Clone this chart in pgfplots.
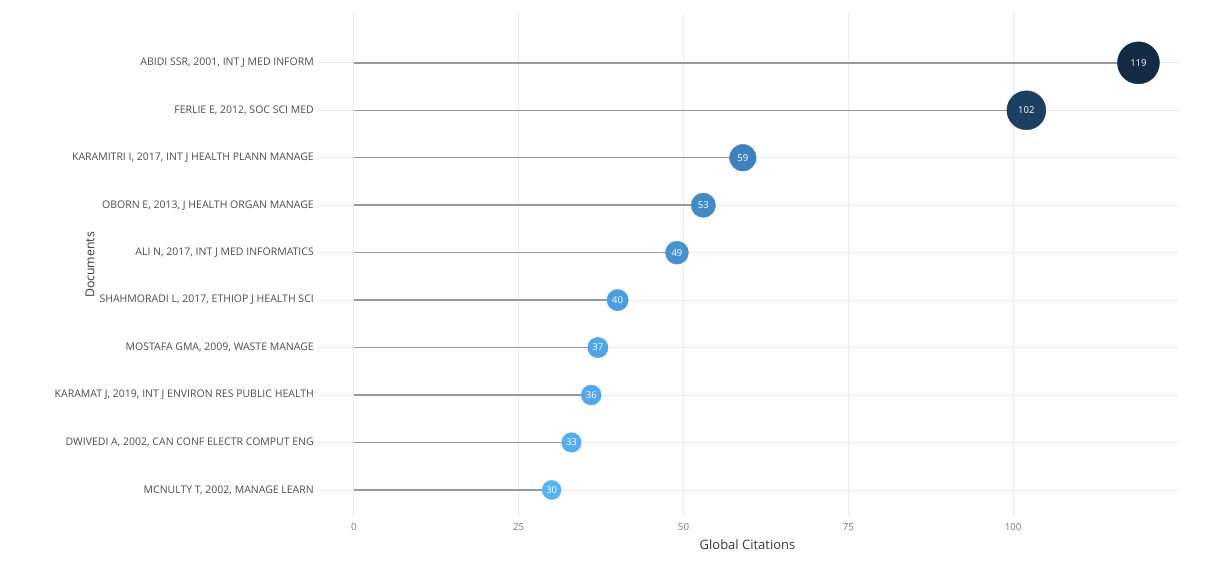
\documentclass[border=0pt]{standalone}
\usepackage{pgfplots}
\pgfplotsset{compat=1.18}
\usepackage{fontspec}
\setmainfont{Open Sans}
\definecolor{gridc}{HTML}{EBEBEB}
\definecolor{stemc}{HTML}{999999}
\definecolor{ytxt}{HTML}{4D4D4D}
\definecolor{xtxt}{HTML}{7A7A7A}
\definecolor{labc}{HTML}{3A3A3A}
\definecolor{cA}{HTML}{132B43}
\definecolor{cB}{HTML}{1D3F60}
\definecolor{cC}{HTML}{3D82BC}
\definecolor{cD}{HTML}{428AC6}
\definecolor{cE}{HTML}{4691CE}
\definecolor{cF}{HTML}{4C9FDF}
\definecolor{cG}{HTML}{50A5E7}
\definecolor{cH}{HTML}{52A8EB}
\definecolor{cI}{HTML}{54ADF1}
\definecolor{cJ}{HTML}{56B1F7}
\begin{document}
\begin{tikzpicture}
\useasboundingbox (-317pt,-43pt) rectangle (897pt,517pt);
\begin{axis}[
  at={(0pt,0pt)}, anchor=south west,
  scale only axis, width=861pt, height=504pt,
  xmin=-5.6, xmax=125, ymin=0.43, ymax=11.05,
  xtick={0,25,50,75,100},
  ytick={1,...,10},
  yticklabels={{MCNULTY T, 2002, MANAGE LEARN},
    {DWIVEDI A, 2002, CAN CONF ELECTR COMPUT ENG},
    {KARAMAT J, 2019, INT J ENVIRON RES PUBLIC HEALTH},
    {MOSTAFA GMA, 2009, WASTE MANAGE},
    {SHAHMORADI L, 2017, ETHIOP J HEALTH SCI},
    {ALI N, 2017, INT J MED INFORMATICS},
    {OBORN E, 2013, J HEALTH ORGAN MANAGE},
    {KARAMITRI I, 2017, INT J HEALTH PLANN MANAGE},
    {FERLIE E, 2012, SOC SCI MED},
    {ABIDI SSR, 2001, INT J MED INFORM}},
  major tick length=0pt,
  axis line style={draw=none},
  grid=major,
  major grid style={gridc, line width=0.9pt},
  /pgf/number format/assume math mode=true,
  xticklabel style={anchor=center, yshift=-10pt, text=xtxt, font=\fontsize{9.8}{11}\selectfont},
  yticklabel style={anchor=east, inner sep=0pt, xshift=-3pt, text=ytxt, font=\fontsize{10.5}{12}\selectfont},
  xlabel={Global Citations},
  ylabel={Documents},
  xlabel style={at={(axis description cs:0.5,-0.0556)}, anchor=center, text=labc, font=\fontsize{13}{15}\selectfont},
  ylabel style={at={(axis description cs:-0.2636,0.5)}, anchor=center, text=labc, font=\fontsize{12.3}{14}\selectfont},
  clip=false,
  pt/.style={only marks, mark=*, mark size=#1pt, point meta=x, nodes near coords,
    nodes near coords align={center},
    every node near coord/.append style={anchor=center, text=white, font=\fontsize{9.5}{10}\selectfont}},
]
\pgfplotstableread{
x y
119 10
102 9
59 8
53 7
49 6
40 5
37 4
36 3
33 2
30 1
}\datatab
\addplot[xcomb, stemc, line width=1.5pt, no marks] table[x=x, y=y] {\datatab};
\addplot[pt=21, cA] coordinates {(119,10)};
\addplot[pt=19.5, cB] coordinates {(102,9)};
\addplot[pt=13.3, cC] coordinates {(59,8)};
\addplot[pt=12.2, cD] coordinates {(53,7)};
\addplot[pt=11.5, cE] coordinates {(49,6)};
\addplot[pt=10.7, cF] coordinates {(40,5)};
\addplot[pt=10.2, cG] coordinates {(37,4)};
\addplot[pt=10, cH] coordinates {(36,3)};
\addplot[pt=9.8, cI] coordinates {(33,2)};
\addplot[pt=9.5, cJ] coordinates {(30,1)};
\end{axis}
\end{tikzpicture}
\end{document}
